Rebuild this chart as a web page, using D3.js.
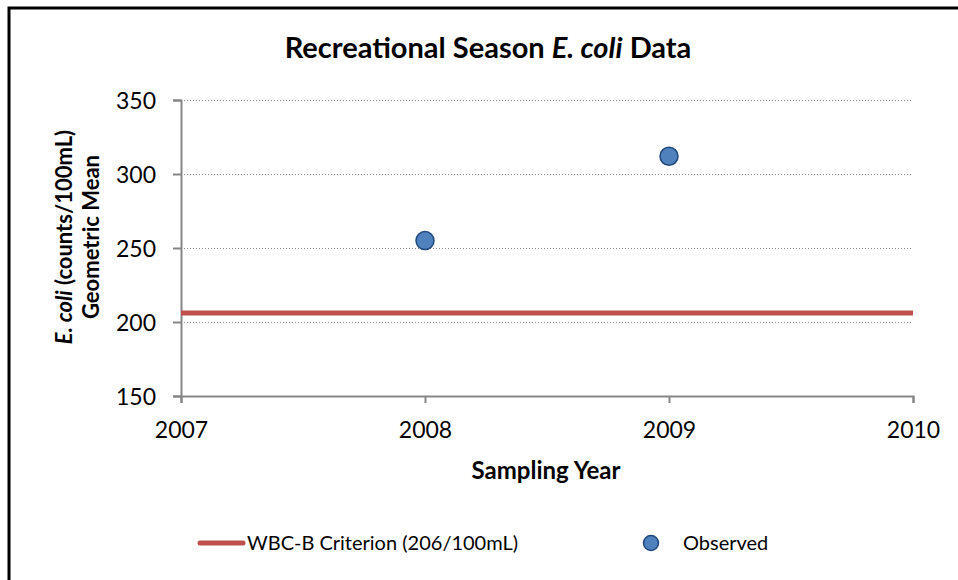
<!DOCTYPE html>
<html lang="en">
<head>
<meta charset="UTF-8">
<title>Recreational Season E. coli Data</title>
<script src="https://d3js.org/d3.v7.min.js"></script>
<style>
    body { margin: 0; background: white; }
    svg { display: block; font-family: Lato, "Open Sans", sans-serif; }
</style>
</head>
<body>
<svg width="958" height="580"></svg>
<script>
    // data
    var years = [2008, 2009];
    var geoMeans = [255, 312];
    var criterion = 206;
    var criterionYears = [2007, 2010];
    var xTicks = [2007, 2008, 2009, 2010];
    var yTicks = [150, 200, 250, 300, 350];

    var svg = d3.select("svg");

    // outer chart border (right/bottom fall outside the window)
    svg.append("rect")
        .attr("x", 9).attr("y", 8)
        .attr("width", 960).attr("height", 600)
        .attr("fill", "white")
        .attr("stroke", "black")
        .attr("stroke-width", 3);

    var plotLeft = 181, plotRight = 913, plotTop = 100, plotBottom = 396;

    var x = d3.scaleLinear().domain([2007, 2010]).range([plotLeft, plotRight]);
    var y = d3.scaleLinear().domain([150, 350]).range([plotBottom, plotTop]);

    // gridlines
    svg.append("g").selectAll("line")
        .data(yTicks.filter(function(d) { return d > 150; }))
        .enter().append("line")
        .attr("x1", plotLeft).attr("x2", plotRight)
        .attr("y1", function(d) { return y(d) + 0.5; })
        .attr("y2", function(d) { return y(d) + 0.5; })
        .attr("stroke", "#8c8c8c")
        .attr("stroke-width", 1)
        .attr("stroke-dasharray", "1,2");

    // axes
    var yAxis = svg.append("g")
        .attr("transform", "translate(" + plotLeft + ",0)")
        .call(d3.axisLeft(y).tickValues(yTicks).tickSize(8).tickPadding(17));
    var xAxis = svg.append("g")
        .attr("transform", "translate(0," + plotBottom + ")")
        .call(d3.axisBottom(x).tickValues(xTicks).tickFormat(d3.format("d")).tickSize(7).tickPadding(19));

    [xAxis, yAxis].forEach(function(a) {
        a.select(".domain").attr("stroke", "#868686").attr("stroke-width", 2);
        a.selectAll(".tick line").attr("stroke", "#868686").attr("stroke-width", 2);
        a.selectAll(".tick text")
            .attr("fill", "black")
            .style("font-size", "23px")
            .style("font-family", "Lato, 'Open Sans', sans-serif");
    });
    yAxis.selectAll(".tick text").attr("dy", "0.35em");

    // criterion line
    var line = d3.line()
        .x(function(d) { return x(d); })
        .y(function() { return y(criterion); });
    svg.append("path")
        .datum(criterionYears)
        .attr("d", line)
        .attr("fill", "none")
        .attr("stroke", "#C0504D")
        .attr("stroke-width", 5);

    // observed points
    svg.append("g").selectAll("circle")
        .data(years)
        .enter().append("circle")
        .attr("cx", function(d) { return x(d); })
        .attr("cy", function(d, i) { return y(geoMeans[i]); })
        .attr("r", 9)
        .attr("fill", "#4F81BD")
        .attr("stroke", "#1F497D")
        .attr("stroke-width", 1.5);

    // title
    var title = svg.append("text")
        .attr("x", 488).attr("y", 58)
        .attr("text-anchor", "middle")
        .style("font-size", "29px")
        .style("font-weight", "bold");
    title.append("tspan").text("Recreational Season ");
    title.append("tspan").style("font-style", "italic").text("E. coli");
    title.append("tspan").text(" Data");

    // x axis title
    svg.append("text")
        .attr("x", 546).attr("y", 479)
        .attr("text-anchor", "middle")
        .style("font-size", "24px")
        .style("font-weight", "bold")
        .text("Sampling Year");

    // y axis title (two lines)
    var yt = svg.append("text")
        .attr("transform", "translate(72,237) rotate(-90)")
        .attr("text-anchor", "middle")
        .style("font-size", "22px")
        .style("font-weight", "bold");
    yt.append("tspan").style("font-style", "italic").text("E. coli");
    yt.append("tspan").text(" (counts/100mL)");
    svg.append("text")
        .attr("transform", "translate(99,237) rotate(-90)")
        .attr("text-anchor", "middle")
        .style("font-size", "22px")
        .style("font-weight", "bold")
        .text("Geometric Mean");

    // legend
    var legend = svg.append("g").attr("transform", "translate(0,543)");
    legend.append("line")
        .attr("x1", 200).attr("x2", 243)
        .attr("stroke", "#C0504D")
        .attr("stroke-width", 5)
        .attr("stroke-linecap", "round");
    legend.append("text")
        .attr("x", 247).attr("dy", "0.35em")
        .style("font-size", "20px")
        .text("WBC-B Criterion (206/100mL)");
    legend.append("circle")
        .attr("cx", 651).attr("r", 7.5)
        .attr("fill", "#4F81BD")
        .attr("stroke", "#1F497D")
        .attr("stroke-width", 1.5);
    legend.append("text")
        .attr("x", 683).attr("dy", "0.35em")
        .style("font-size", "20px")
        .text("Observed");
</script>
</body>
</html>
